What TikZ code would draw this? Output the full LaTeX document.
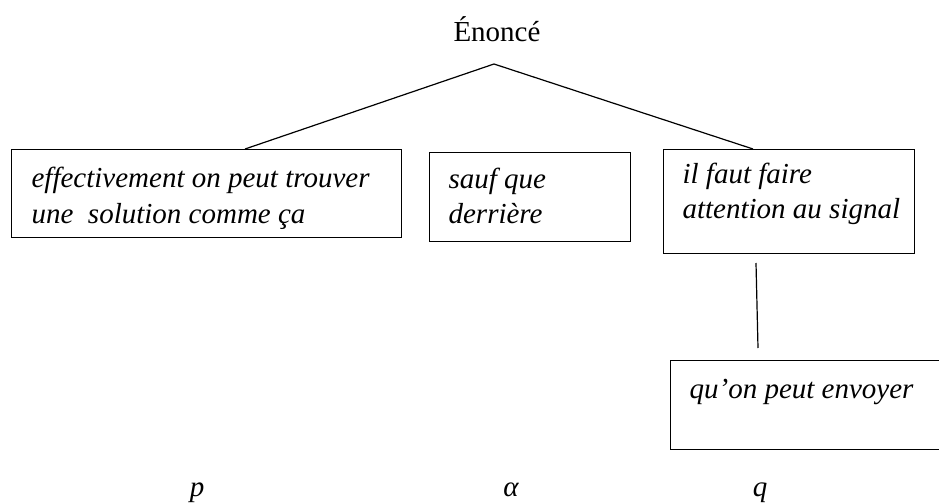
\documentclass[tikz,border=0pt]{standalone}
\usepackage{fontspec}
\setmainfont{Liberation Serif}
\begin{document}
\begin{tikzpicture}[x=1pt, y=-1pt, line width=1.2pt,
  box/.style={draw, line width=1.2pt, anchor=north west, inner sep=0pt},
  txt/.style={anchor=base west, inner sep=0pt, font=\fontsize{29}{36}\selectfont\itshape},
  lbl/.style={anchor=base, inner sep=0pt, font=\fontsize{29}{36}\selectfont\itshape}]
\useasboundingbox (0,0) rectangle (939,503);
\clip (0,0) rectangle (939,503);
%%%% Root and branches:
\node[anchor=base, inner sep=0pt, font=\fontsize{29}{36}\selectfont] (enonce) at (497,42) {Énoncé};
\coordinate (apex) at (494,64);
\coordinate (j1) at (245,149);
\coordinate (j3) at (753,149);
\draw (j1) -- (apex) -- (j3);

%%%% Boxes:
\node[box, minimum width=390pt, minimum height=88pt] (b1) at (11,149) {};
\node[box, minimum width=201pt, minimum height=89pt] (b2) at (429,152) {};
\node[box, minimum width=251pt, minimum height=104pt] (b3) at (663,149) {};
\node[box, minimum width=300pt, minimum height=89pt] (b4) at (670,360) {};

%%%% Box texts
\node[txt] (t1a) at (31,187) {effectivement on peut trouver};
\node[txt] (t1b) at (31,223) {une\ \ solution comme ça};
\node[txt] (t2a) at (448,188) {sauf que};
\node[txt] (t2b) at (448,223) {derrière};
\node[txt] (t3a) at (682,183) {il faut faire};
\node[txt] (t3b) at (682,218) {attention au signal};
\node[txt] (t4) at (689,398) {qu’on peut envoyer};

%%%% Link down to the last box
\coordinate (s1) at (756,263);
\coordinate (s2) at (758,348);
\draw (s1) -- (s2);

%%%% Labels underneath
\node[lbl] (p) at (197,496) {p};
\node[lbl] (alpha) at (511,496) {α};
\node[lbl] (q) at (760,496) {q};
\end{tikzpicture}
\end{document}
